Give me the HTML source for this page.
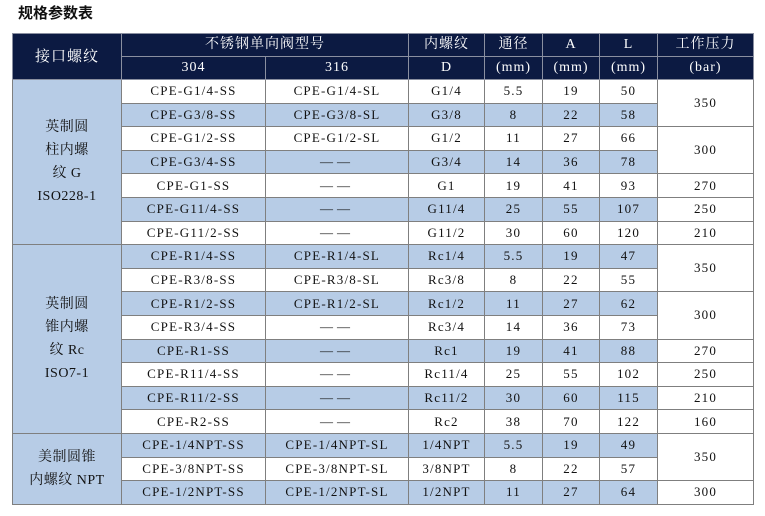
<!DOCTYPE html>
<html><head><meta charset="utf-8"><style>
body{margin:0;width:765px;height:516px;background:#fff;position:relative;font-family:"Liberation Serif","Noto Serif CJK SC",serif;}
.t{position:absolute;left:18px;top:2px;font:bold 15px "Liberation Sans","Noto Sans CJK SC",sans-serif;color:#111;}
table{position:absolute;left:12px;top:33px;border-collapse:collapse;table-layout:fixed;width:741px;}
td{border:1px solid #7f7f7f;text-align:center;font-size:13px;letter-spacing:1.2px;color:#111;padding:0;height:22.6px;line-height:14px;background:#fff;}
.h td{background:#0c1a42;color:#fff;border-color:#8a8fa0;font-size:14px;height:22px;letter-spacing:1px;}
.b td{background:#b7cce6;}
td.w{background:#fff!important;}
td.f{background:#b7cce6!important;font-size:14px;line-height:23px;letter-spacing:0.5px;}
.d{letter-spacing:4px;}
</style></head><body>
<div class="t">规格参数表</div>
<table>
<colgroup><col style="width:109px"><col style="width:144px"><col style="width:143px"><col style="width:76px"><col style="width:58px"><col style="width:57px"><col style="width:58px"><col style="width:96px"></colgroup>
<tr class="h"><td rowspan="2" style="font-size:15px">接口螺纹</td><td colspan="2">不锈钢单向阀型号</td><td>内螺纹</td><td>通径</td><td>A</td><td>L</td><td>工作压力</td></tr>
<tr class="h"><td>304</td><td>316</td><td>D</td><td>(mm)</td><td>(mm)</td><td>(mm)</td><td>(bar)</td></tr>
<tr><td rowspan="7" class="f">英制圆<br>柱内螺<br>纹 G<br>ISO228-1</td><td>CPE-G1/4-SS</td><td>CPE-G1/4-SL</td><td>G1/4</td><td>5.5</td><td>19</td><td>50</td><td rowspan="2" class="w">350</td></tr>
<tr class="b"><td>CPE-G3/8-SS</td><td>CPE-G3/8-SL</td><td>G3/8</td><td>8</td><td>22</td><td>58</td></tr>
<tr><td>CPE-G1/2-SS</td><td>CPE-G1/2-SL</td><td>G1/2</td><td>11</td><td>27</td><td>66</td><td rowspan="2" class="w">300</td></tr>
<tr class="b"><td>CPE-G3/4-SS</td><td class="d">——</td><td>G3/4</td><td>14</td><td>36</td><td>78</td></tr>
<tr><td>CPE-G1-SS</td><td class="d">——</td><td>G1</td><td>19</td><td>41</td><td>93</td><td class="w">270</td></tr>
<tr class="b"><td>CPE-G11/4-SS</td><td class="d">——</td><td>G11/4</td><td>25</td><td>55</td><td>107</td><td class="w">250</td></tr>
<tr><td>CPE-G11/2-SS</td><td class="d">——</td><td>G11/2</td><td>30</td><td>60</td><td>120</td><td class="w">210</td></tr>
<tr class="b"><td rowspan="8" class="f">英制圆<br>锥内螺<br>纹 Rc<br>ISO7-1</td><td>CPE-R1/4-SS</td><td>CPE-R1/4-SL</td><td>Rc1/4</td><td>5.5</td><td>19</td><td>47</td><td rowspan="2" class="w">350</td></tr>
<tr><td>CPE-R3/8-SS</td><td>CPE-R3/8-SL</td><td>Rc3/8</td><td>8</td><td>22</td><td>55</td></tr>
<tr class="b"><td>CPE-R1/2-SS</td><td>CPE-R1/2-SL</td><td>Rc1/2</td><td>11</td><td>27</td><td>62</td><td rowspan="2" class="w">300</td></tr>
<tr><td>CPE-R3/4-SS</td><td class="d">——</td><td>Rc3/4</td><td>14</td><td>36</td><td>73</td></tr>
<tr class="b"><td>CPE-R1-SS</td><td class="d">——</td><td>Rc1</td><td>19</td><td>41</td><td>88</td><td class="w">270</td></tr>
<tr><td>CPE-R11/4-SS</td><td class="d">——</td><td>Rc11/4</td><td>25</td><td>55</td><td>102</td><td class="w">250</td></tr>
<tr class="b"><td>CPE-R11/2-SS</td><td class="d">——</td><td>Rc11/2</td><td>30</td><td>60</td><td>115</td><td class="w">210</td></tr>
<tr><td>CPE-R2-SS</td><td class="d">——</td><td>Rc2</td><td>38</td><td>70</td><td>122</td><td class="w">160</td></tr>
<tr class="b"><td rowspan="3" class="f">美制圆锥<br>内螺纹 NPT</td><td>CPE-1/4NPT-SS</td><td>CPE-1/4NPT-SL</td><td>1/4NPT</td><td>5.5</td><td>19</td><td>49</td><td rowspan="2" class="w">350</td></tr>
<tr><td>CPE-3/8NPT-SS</td><td>CPE-3/8NPT-SL</td><td>3/8NPT</td><td>8</td><td>22</td><td>57</td></tr>
<tr class="b"><td>CPE-1/2NPT-SS</td><td>CPE-1/2NPT-SL</td><td>1/2NPT</td><td>11</td><td>27</td><td>64</td><td class="w">300</td></tr>
</table>
</body></html>
